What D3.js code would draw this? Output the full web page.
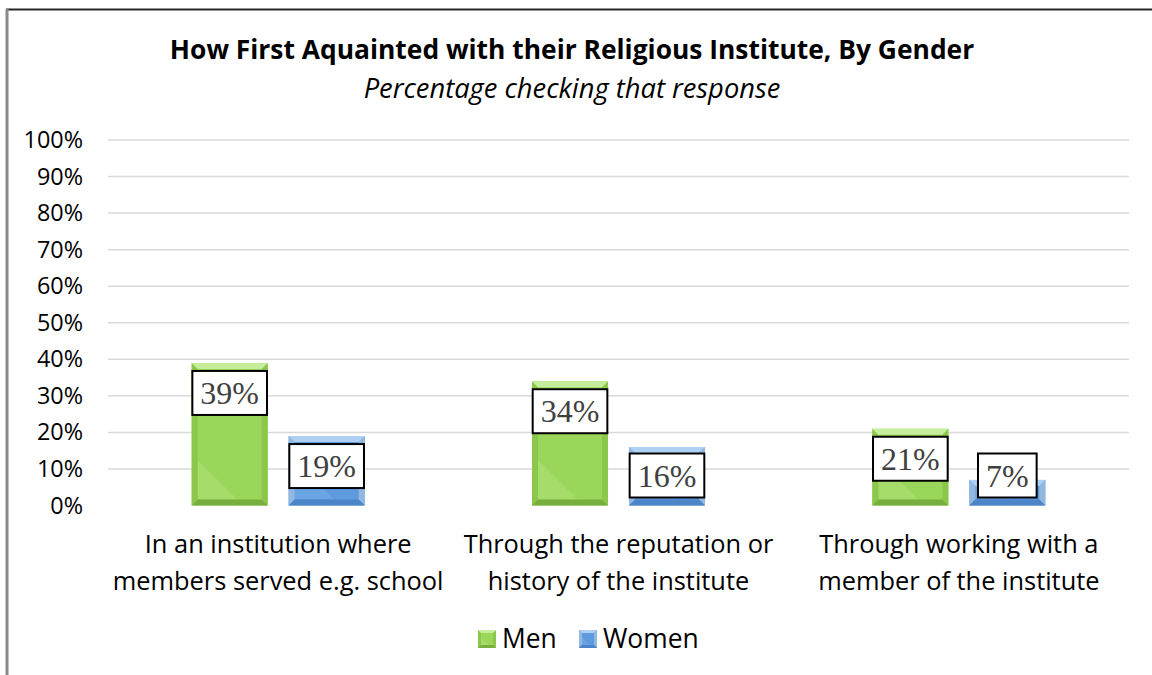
<!DOCTYPE html>
<html>
<head>
<meta charset="utf-8">
<script src="https://cdn.jsdelivr.net/npm/d3@7"></script>
<style>
  body { margin: 0; background: #fff; }
  svg { display: block; }
</style>
</head>
<body>
<div id="chart"></div>
<script>
// chart data
var categories = [
  ["In an institution where", "members served e.g. school"],
  ["Through the reputation or", "history of the institute"],
  ["Through working with a", "member of the institute"]
];
var seriesNames = ["Men", "Women"];
var menValues = [0.39, 0.34, 0.21];
var womenValues = [0.19, 0.16, 0.07];
var yTicks = [0, 0.1, 0.2, 0.3, 0.4, 0.5, 0.6, 0.7, 0.8, 0.9, 1.0];

var titleText = "How First Aquainted with their Religious Institute, By Gender";
var subtitleText = "Percentage checking that response";

var W = 1152, H = 675;
var sans = "'Open Sans', 'DejaVu Sans', sans-serif";
var serif = "'Liberation Serif', 'DejaVu Serif', serif";

// colours for the bevelled bars
var palette = {
  Men:   { body: "#9ad65a", top: "#c6ed9c", side: "#8bc74b", bottom: "#78ae3d", shine: "#abe070" },
  Women: { body: "#5d9ade", top: "#aed0f3", side: "#93b8e0", bottom: "#4b84c7", shine: "#70a8e5" }
};

var svg = d3.select("#chart").append("svg")
  .attr("width", W).attr("height", H);

svg.append("rect").attr("width", W).attr("height", H).attr("fill", "#fff");

// chart frame: dark top edge, grey left edge
svg.append("line").attr("x1", 6).attr("x2", W).attr("y1", 9.5).attr("y2", 9.5)
  .attr("stroke", "#262626").attr("stroke-width", 2);
svg.append("line").attr("x1", 7).attr("x2", 7).attr("y1", 9).attr("y2", H)
  .attr("stroke", "#8a8a8a").attr("stroke-width", 3);

// titles
svg.append("text").attr("x", 572).attr("y", 59)
  .attr("text-anchor", "middle")
  .style("font-family", sans).style("font-weight", "bold").style("font-size", "26.4px")
  .attr("fill", "#000").text(titleText);
svg.append("text").attr("x", 572).attr("y", 98)
  .attr("text-anchor", "middle")
  .style("font-family", sans).style("font-style", "italic").style("font-size", "27.3px")
  .attr("fill", "#000").text(subtitleText);

// scales
var x0 = d3.scaleBand().domain(d3.range(categories.length)).range([108, 1129]);
var x1 = d3.scaleBand().domain(seriesNames).range([0, 173]).paddingInner(0.216);
var y = d3.scaleLinear().domain([0, 1]).range([505.5, 140]);

// gridlines + y axis
var yAxis = d3.axisLeft(y).tickValues(yTicks).tickSize(0).tickPadding(0)
  .tickFormat(d3.format(".0%"));
var gy = svg.append("g").attr("transform", "translate(83,0)").call(yAxis);
gy.select(".domain").remove();
gy.selectAll("text")
  .style("font-family", sans).style("font-size", "23.4px").attr("fill", "#000");

svg.append("g").selectAll("line").data(yTicks.slice(1)).join("line")
  .attr("x1", 108).attr("x2", 1129)
  .attr("y1", function(d) { return y(d); }).attr("y2", function(d) { return y(d); })
  .attr("stroke", "#d9d9d9").attr("stroke-width", 1.5);

// bars
var rows = [];
categories.forEach(function(c, i) {
  rows.push({ cat: i, series: "Men", value: menValues[i] });
  rows.push({ cat: i, series: "Women", value: womenValues[i] });
});

function bevelBar(g, x, yTop, w, h, col, bevel) {
  var b = Math.min(bevel, h / 2);
  g.append("rect").attr("x", x).attr("y", yTop).attr("width", w).attr("height", h).attr("fill", col.body);
  // faint diagonal shine in the lower part
  g.append("path")
    .attr("d", "M" + (x + b) + "," + (yTop + h - b) + "L" + (x + b) + "," + Math.max(yTop + b, yTop + h - w * 0.6) +
      "L" + (x + w * 0.6) + "," + (yTop + h - b) + "Z")
    .attr("fill", col.shine).attr("opacity", 0.7);
  // sides
  g.append("path")
    .attr("d", "M" + x + "," + yTop + "L" + (x + b) + "," + (yTop + b) + "L" + (x + b) + "," + (yTop + h - b) + "L" + x + "," + (yTop + h) + "Z")
    .attr("fill", col.side);
  g.append("path")
    .attr("d", "M" + (x + w) + "," + yTop + "L" + (x + w - b) + "," + (yTop + b) + "L" + (x + w - b) + "," + (yTop + h - b) + "L" + (x + w) + "," + (yTop + h) + "Z")
    .attr("fill", col.side);
  // top and bottom
  g.append("path")
    .attr("d", "M" + x + "," + yTop + "L" + (x + w) + "," + yTop + "L" + (x + w - b) + "," + (yTop + b) + "L" + (x + b) + "," + (yTop + b) + "Z")
    .attr("fill", col.top);
  g.append("path")
    .attr("d", "M" + x + "," + (yTop + h) + "L" + (x + w) + "," + (yTop + h) + "L" + (x + w - b) + "," + (yTop + h - b) + "L" + (x + b) + "," + (yTop + h - b) + "Z")
    .attr("fill", col.bottom);
}

var offset = (x0.bandwidth() - 173) / 2;
var barsG = svg.append("g");
rows.forEach(function(d) {
  var bx = x0(d.cat) + offset + x1(d.series);
  var by = y(d.value);
  var bh = y(0) - by;
  bevelBar(barsG.append("g"), bx, by, x1.bandwidth(), bh, palette[d.series], 6);
});

// data labels: boxed, serif
var labelsG = svg.append("g");
rows.forEach(function(d) {
  var cx = x0(d.cat) + offset + x1(d.series) + x1.bandwidth() / 2;
  var g = labelsG.append("g");
  var t = g.append("text")
    .attr("text-anchor", "middle")
    .style("font-family", serif).style("font-size", "32px")
    .attr("fill", "#404040")
    .text(d3.format(".0%")(d.value));
  var tw = t.node().getComputedTextLength();
  var bw = tw + 16, bh = 44;
  var top = Math.min(y(d.value) + 8, y(0) - 8 - bh);
  g.insert("rect", "text")
    .attr("x", cx - bw / 2).attr("y", top).attr("width", bw).attr("height", bh)
    .attr("fill", "#fff").attr("stroke", "#000").attr("stroke-width", 2);
  t.attr("x", cx).attr("y", top + bh / 2 + 11);
});

// category labels
var catG = svg.append("g");
categories.forEach(function(lines, i) {
  var cx = x0(i) + x0.bandwidth() / 2;
  var t = catG.append("text").attr("text-anchor", "middle")
    .style("font-family", sans).style("font-size", "25.4px").attr("fill", "#000");
  lines.forEach(function(l, k) {
    t.append("tspan").attr("x", cx).attr("y", 553 + k * 36.5).text(l);
  });
});

// legend
var legendItems = [
  { name: "Men", x: 478 },
  { name: "Women", x: 579 }
];
var lg = svg.append("g");
legendItems.forEach(function(it) {
  bevelBar(lg.append("g"), it.x, 630, 18, 18, palette[it.name], 3);
  lg.append("text").attr("x", it.x + 24).attr("y", 648)
    .style("font-family", sans).style("font-size", "26.4px").attr("fill", "#000")
    .text(it.name);
});
</script>
</body>
</html>
